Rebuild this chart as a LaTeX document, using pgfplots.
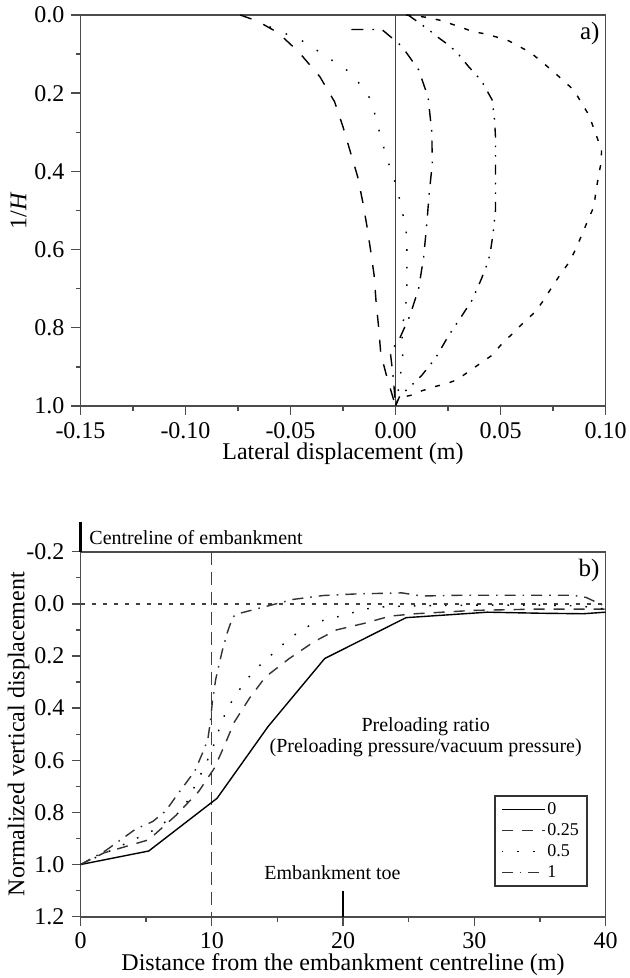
\documentclass[border=0pt]{standalone}
\usepackage{fontspec}
\setmainfont{Liberation Serif}
\usepackage{pgfplots}
\pgfplotsset{compat=1.18}

\pgfplotsset{
  panel/.style={
    scale only axis,
    width=262.5pt,
    axis line style={black!70, line width=0.8pt},
    tick style={black!70, line width=0.7pt},
    tick align=outside,
    major tick length=4.5pt,
    minor tick length=2.5pt,
    xtick pos=bottom, ytick pos=left,
    y dir=reverse,
    minor x tick num=1, minor y tick num=1,
    tick label style={font=\fontsize{12}{13}\selectfont},
    label style={font=\fontsize{12}{14}\selectfont},
    /pgf/number format/assume math mode=true,
    yticklabel style={/pgf/number format/.cd, fixed, fixed zerofill, precision=1},
  },
  curve/.style={black, line width=0.7pt},
}

\begin{document}
\begin{tikzpicture}
\useasboundingbox (-40.25pt,-30.65pt) rectangle (274.25pt,458.35pt);

% ---- a) lateral displacement ----
\begin{axis}[panel,
    at={(0,255.35pt)}, height=195.5pt,
    xmin=-0.15, xmax=0.10, ymin=0, ymax=1,
    xtick={-0.15,-0.1,-0.05,0,0.05,0.1},
    ytick={0,0.2,0.4,0.6,0.8,1},
    xticklabel style={/pgf/number format/.cd, fixed, fixed zerofill, precision=2},
    xlabel={Lateral displacement (m)},
    ylabel={1/\textit{H}},
    xlabel style={at={(axis description cs:0.5,-0.1228)}, anchor=center},
    ylabel style={at={(axis description cs:-0.118,0.5)}, anchor=center},
]
\addplot[black!75, line width=0.8pt] coordinates {(0,0) (0,1)};

% long dash
\addplot[curve, dash pattern=on 6pt off 6.5pt] coordinates {
(-0.074,0.000) (-0.066,0.015) (-0.056,0.045) (-0.046,0.095) (-0.036,0.158)
(-0.029,0.222) (-0.025,0.286) (-0.0215,0.350) (-0.018,0.414) (-0.0156,0.478)
(-0.0136,0.540) (-0.0118,0.604) (-0.0102,0.665) (-0.0092,0.737) (-0.008,0.800)
(-0.007,0.867) (-0.004,0.928) (0,1.0)
};
% sparse dots
\addplot[curve, dash pattern=on 0.8pt off 8pt] coordinates {
(-0.060,0.030) (-0.0445,0.066) (-0.0375,0.090) (-0.0232,0.141) (-0.0165,0.179)
(-0.0117,0.217) (-0.0097,0.256) (-0.0078,0.296) (-0.0038,0.373) (-0.0012,0.407)
(0.0008,0.448) (0.0027,0.486) (0.0054,0.565) (0.0054,0.642) (0.0054,0.720)
(0.0030,0.810) (0.0035,0.865) (0.0020,0.940) (0,1.0)
};
% dash dot
\addplot[curve, dash pattern=on 6pt off 4.5pt on 0.8pt off 4.5pt] coordinates {
(-0.021,0.037) (-0.0065,0.037) (0.003,0.080) (0.011,0.140) (0.0155,0.210)
(0.0173,0.300) (0.0175,0.380) (0.016,0.460) (0.0148,0.540) (0.0134,0.620)
(0.011,0.700) (0.0068,0.770) (0.0013,0.835) (-0.0025,0.861) (-0.001,0.930) (0,1.0)
};
% dash dot dot
\addplot[curve, dash pattern=on 5pt off 4pt on 0.8pt off 4pt on 0.8pt off 4pt] coordinates {
(0.006,0.000) (0.0157,0.037) (0.0197,0.055) (0.0253,0.077) (0.0293,0.096)
(0.0348,0.132) (0.0409,0.168) (0.046,0.217) (0.0471,0.264) (0.0476,0.310)
(0.0476,0.400) (0.0476,0.500) (0.0465,0.558) (0.0452,0.605) (0.0441,0.631)
(0.0409,0.675) (0.0365,0.729) (0.0309,0.775) (0.0253,0.820) (0.019,0.878)
(0.0126,0.921) (0.0078,0.946) (0.002,0.975) (0,1.0)
};
% short dash
\addplot[curve, dash pattern=on 2.5pt off 5pt] coordinates {
(0.005,0.000) (0.015,0.006) (0.0221,0.0146) (0.0293,0.028) (0.0372,0.043)
(0.0436,0.049) (0.0539,0.066) (0.0643,0.096) (0.0746,0.142) (0.0849,0.192)
(0.0921,0.256) (0.0961,0.315) (0.0981,0.345) (0.098,0.375) (0.0969,0.405)
(0.0953,0.456) (0.0945,0.490) (0.092,0.520) (0.0897,0.550) (0.0873,0.580)
(0.085,0.608) (0.0818,0.639) (0.0778,0.669) (0.0746,0.695) (0.0706,0.729)
(0.0666,0.759) (0.0615,0.784) (0.0563,0.812) (0.0508,0.840) (0.046,0.870)
(0.0404,0.891) (0.0348,0.912) (0.0293,0.933) (0.0237,0.944) (0.019,0.950)
(0.0126,0.961) (0.0078,0.972) (0.0022,0.979) (0.001,0.985) (0,1.0)
};
\node[anchor=north east, inner sep=1.5pt, font=\fontsize{12.5}{14}\selectfont]
  at (axis description cs:0.995,0.99) {a)};
\end{axis}

% ---- b) normalized vertical displacement ----
\begin{axis}[panel, clip=false,
    at={(0,0)}, height=182.5pt,
    xmin=0, xmax=40, ymin=-0.2, ymax=1.2,
    xtick={0,10,20,30,40},
    ytick={-0.2,0,0.2,0.4,0.6,0.8,1,1.2},
    xlabel={Distance from the embankment centreline (m)},
    ylabel={Normalized vertical displacement},
    xlabel style={at={(axis description cs:0.5,-0.1315)}, anchor=center},
    ylabel style={at={(axis description cs:-0.118,0.5)}, anchor=center},
    legend style={at={(axis description cs:0.966,0.082)}, anchor=south east,
      draw=black!80, line width=0.7pt, inner xsep=3pt, inner ysep=1.5pt,
      font=\fontsize{9}{10}\selectfont,
      nodes={text height=6.5pt, text depth=2pt, inner ysep=1pt, inner xsep=1pt},
      cells={anchor=west}},
    legend image code/.code={\draw[#1] (0pt,0pt) -- (21.5pt,0pt);},
]
\addplot[forget plot, black!75, line width=0.7pt, dash pattern=on 6.5pt off 3.5pt]
  coordinates {(10,-0.2) (10,1.2)};
\addplot[forget plot, black!75, line width=0.7pt, dash pattern=on 2pt off 3.5pt]
  coordinates {(0,0) (40,0)};

\addplot[curve] coordinates {
(0,1.0) (5.2,0.948) (10.4,0.746) (14.3,0.47) (18.6,0.21) (24.8,0.053)
(31,0.032) (35,0.036) (38.3,0.038) (40,0.032)
};
\addplot[curve, black!80, dash pattern=on 5.5pt off 4.5pt] coordinates {
(0,1.0) (1.8,0.955) (5.2,0.905) (7.3,0.81) (9,0.72) (10.2,0.63) (11,0.54)
(11.7,0.455) (12.9,0.36) (14.1,0.28) (15.9,0.21) (17.8,0.145) (19.5,0.1)
(21.6,0.075) (23.6,0.047) (25.5,0.038) (30,0.025) (35,0.02) (40,0.02)
};
\addplot[curve, dash pattern=on 0.8pt off 7pt] coordinates {
(0,1.0) (3,0.93) (5.5,0.87) (7.8,0.79) (8.6,0.71) (9.5,0.62) (10.1,0.55)
(10.7,0.46) (11.2,0.40) (11.8,0.353) (12.5,0.30) (13.4,0.248) (15.5,0.152)
(16.6,0.108) (17.7,0.076) (18.9,0.057) (20.1,0.044) (21.3,0.025) (22.4,0.013)
(25,0.008) (30,0.005) (35,0.005) (38,0.008) (40,0.02)
};
\addplot[curve, black!80, dash pattern=on 5.5pt off 3.5pt on 0.8pt off 3.5pt] coordinates {
(0,1.0) (1.9,0.947) (4.2,0.864) (5.5,0.835) (6.5,0.794) (7.3,0.737) (8.7,0.642)
(9.3,0.572) (9.7,0.52) (9.9,0.45) (10.05,0.375) (10.3,0.29) (10.8,0.18)
(11.2,0.108) (11.6,0.05) (12,0.038) (13.9,0.013) (16.2,-0.017) (18.5,-0.032)
(21,-0.038) (24.5,-0.042) (26,-0.03) (29,-0.033) (37.5,-0.033) (38.5,-0.025) (40,0.01)
};
\legend{0, 0.25, 0.5, 1}

\draw[line width=1.4pt] (axis cs:0,-0.2) -- (axis cs:0,-0.315);
\node[anchor=west, inner sep=0pt, font=\fontsize{10}{12}\selectfont]
  at (axis cs:0.65,-0.253) {Centreline of embankment};
\draw[line width=1.4pt] (axis cs:20,1.1) -- (axis cs:20,1.2);
\node[font=\fontsize{10}{12}\selectfont] at (axis cs:19.2,1.032) {Embankment toe};
\node[align=center, font=\fontsize{10}{10.5}\selectfont] at (axis cs:26.3,0.51)
  {Preloading ratio\\(Preloading pressure/vacuum pressure)};
\node[anchor=north east, inner sep=1.5pt, font=\fontsize{12.5}{14}\selectfont]
  at (axis description cs:0.995,0.99) {b)};
\end{axis}
\end{tikzpicture}
\end{document}
